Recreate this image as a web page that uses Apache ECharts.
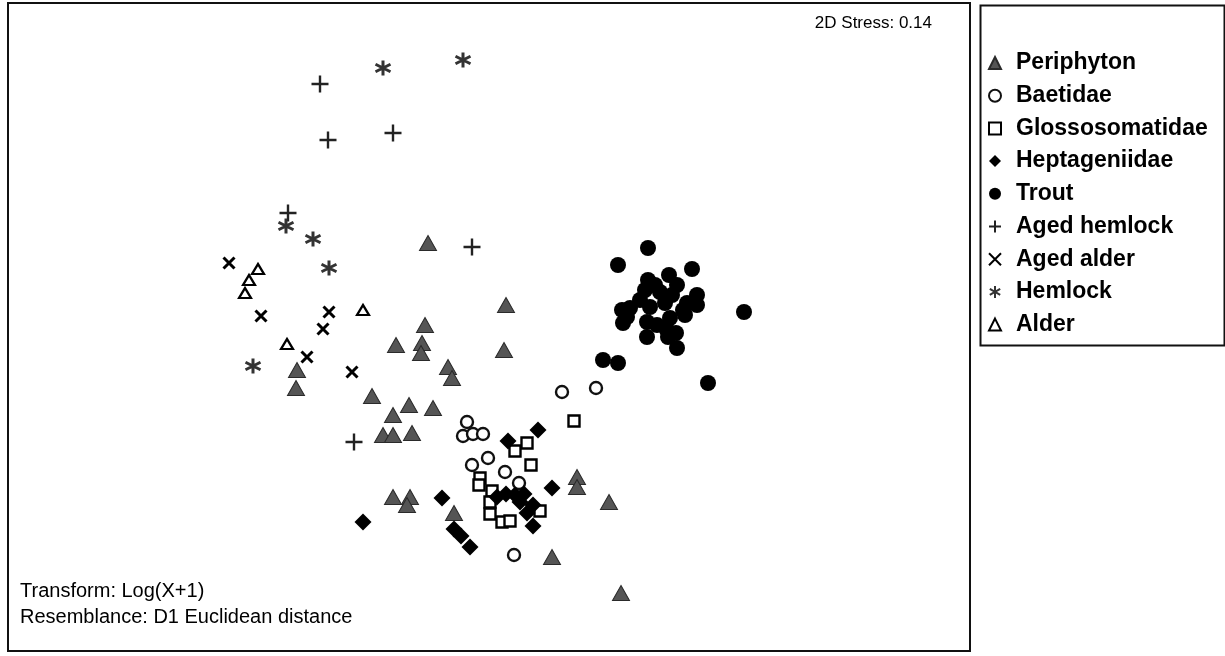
<!DOCTYPE html>
<html>
<head>
<meta charset="utf-8">
<script src="https://cdn.jsdelivr.net/npm/echarts@6/dist/echarts.min.js"></script>
<style>
  html, body { margin: 0; padding: 0; background: #fff; }
  #main { width: 1225px; height: 656px; }
</style>
</head>
<body>
<div id="main"></div>
<script>
// nMDS coordinates (arbitrary units)
var periphyton = [
  [-0.31, 0.435], [0.08, 0.125], [-0.325, 0.025], [-0.47, -0.075], [-0.34, -0.065],
  [-0.345, -0.115], [0.07, -0.1], [-0.21, -0.185], [-0.19, -0.24], [-0.965, -0.2],
  [-0.97, -0.29], [-0.59, -0.33], [-0.405, -0.375], [-0.285, -0.39], [-0.485, -0.425],
  [-0.535, -0.525], [-0.485, -0.525], [-0.39, -0.515], [-0.485, -0.835], [-0.4, -0.835],
  [-0.415, -0.875], [-0.18, -0.915], [0.435, -0.735], [0.435, -0.785], [0.595, -0.86],
  [0.31, -1.135], [0.655, -1.315]
]
var baetidae = [
  [0.36, -0.31], [0.53, -0.29], [-0.115, -0.46], [-0.135, -0.53], [-0.085, -0.52],
  [-0.035, -0.52], [-0.09, -0.675], [-0.01, -0.64], [0.075, -0.71], [0.145, -0.765],
  [0.12, -1.125]
]
var glossosomatidae = [
  [0.42, -0.455], [0.185, -0.565], [0.125, -0.605], [0.205, -0.675], [-0.05, -0.74],
  [-0.055, -0.775], [0.01, -0.805], [0, -0.86], [0, -0.92], [0.06, -0.96],
  [0.1, -0.955], [0.25, -0.905]
]
var heptageniidae = [
  [0.24, -0.5], [0.09, -0.555], [-0.24, -0.84], [-0.635, -0.96], [-0.18, -0.995],
  [-0.145, -1.03], [-0.1, -1.085], [0.31, -0.79], [0.215, -0.98], [0.035, -0.835],
  [0.08, -0.82], [0.125, -0.825], [0.17, -0.82], [0.15, -0.86], [0.185, -0.915],
  [0.215, -0.875]
]
var trout = [
  [0.79, 0.41], [0.64, 0.325], [1.01, 0.305], [0.79, 0.25], [0.895, 0.275],
  [0.935, 0.225], [0.775, 0.2], [0.85, 0.19], [0.75, 0.15], [1.035, 0.175],
  [0.985, 0.135], [1.035, 0.125], [0.875, 0.135], [0.8, 0.115], [0.66, 0.1],
  [0.7, 0.11], [0.685, 0.065], [0.665, 0.035], [0.965, 0.1], [0.975, 0.075],
  [0.785, 0.04], [0.835, 0.025], [0.9, 0.06], [0.885, 0], [0.785, -0.035],
  [0.89, -0.035], [0.93, -0.015], [0.935, -0.09], [1.27, 0.09], [0.565, -0.15],
  [0.64, -0.165], [1.09, -0.265], [0.825, 0.225], [0.91, 0.175]
]
var agedHemlock = [
  [-0.85, 1.23], [-0.81, 0.95], [-0.485, 0.985], [-1.01, 0.585], [-0.09, 0.415], [-0.68, -0.56]
]
var agedAlder = [
  [-1.305, 0.335], [-1.145, 0.07], [-0.805, 0.09], [-0.835, 0.005], [-0.915, -0.135], [-0.69, -0.21]
]
var hemlock = [
  [-0.535, 1.31], [-0.135, 1.35], [-1.02, 0.52], [-0.885, 0.455], [-0.805, 0.31], [-1.185, -0.18]
]
var alder = [
  [-1.16, 0.305], [-1.205, 0.25], [-1.225, 0.185], [-0.635, 0.1], [-1.015, -0.07]
]
var groupNames = ['Periphyton', 'Baetidae', 'Glossosomatidae', 'Heptageniidae', 'Trout',
  'Aged hemlock', 'Aged alder', 'Hemlock', 'Alder']

var FONT = '"Liberation Sans", Arial, sans-serif'
var plusPath = 'path://M5,0 L5,10 M0,5 L10,5'
var crossPath = 'path://M0,0 L10,10 M10,0 L0,10'
var starPath = 'path://M5,0 L5,10 M0.67,2.5 L9.33,7.5 M0.67,7.5 L9.33,2.5'

var myChart = echarts.init(document.getElementById('main'))

var option = {
  animation: false,
  backgroundColor: '#fff',
  grid: {
    left: 8, top: 3, width: 962, height: 648,
    show: true, borderColor: '#111', borderWidth: 2
  },
  xAxis: { type: 'value', min: -2.41, max: 2.4, show: false },
  yAxis: { type: 'value', min: -1.605, max: 1.635, show: false },
  legend: {
    orient: 'vertical',
    left: 988, top: 51,
    padding: 0,
    itemWidth: 12, itemHeight: 12,
    itemGap: 8.7,
    data: groupNames,
    textStyle: {
      fontFamily: FONT, fontSize: 23, fontWeight: 'bold', color: '#000',
      lineHeight: 24, padding: [0, 0, 0, 10]
    }
  },
  graphic: [
    {
      type: 'rect', left: 978, top: 3, silent: true,
      shape: { width: 244, height: 340 },
      style: { fill: 'none', stroke: '#111', lineWidth: 2 }
    },
    {
      type: 'text', right: 1225 - 932, top: 15,
      style: { text: '2D Stress: 0.14', font: '17px ' + FONT, fill: '#000' }
    },
    {
      type: 'text', left: 20, top: 581,
      style: { text: 'Transform: Log(X+1)', font: '20px ' + FONT, fill: '#000' }
    },
    {
      type: 'text', left: 20, top: 607,
      style: { text: 'Resemblance: D1 Euclidean distance', font: '20px ' + FONT, fill: '#000' }
    }
  ],
  series: [
    {
      name: 'Periphyton', type: 'scatter', data: periphyton,
      symbol: 'triangle', symbolSize: [17, 15],
      itemStyle: { color: '#555', borderColor: '#2a2a2a', borderWidth: 1, opacity: 1 }
    },
    {
      name: 'Baetidae', type: 'scatter', data: baetidae,
      symbol: 'circle', symbolSize: 12,
      itemStyle: { color: '#fff', borderColor: '#111', borderWidth: 2.4, opacity: 1 }
    },
    {
      name: 'Glossosomatidae', type: 'scatter', data: glossosomatidae,
      symbol: 'rect', symbolSize: 11,
      itemStyle: { color: '#fff', borderColor: '#000', borderWidth: 2.4, opacity: 1 }
    },
    {
      name: 'Heptageniidae', type: 'scatter', data: heptageniidae,
      symbol: 'diamond', symbolSize: 17,
      itemStyle: { color: '#000', opacity: 1 }
    },
    {
      name: 'Trout', type: 'scatter', data: trout,
      symbol: 'circle', symbolSize: 16,
      itemStyle: { color: '#000', opacity: 1 }
    },
    {
      name: 'Aged hemlock', type: 'scatter', data: agedHemlock,
      symbol: plusPath, symbolSize: 17,
      itemStyle: { color: 'transparent', borderColor: '#222', borderWidth: 2.4, opacity: 1 }
    },
    {
      name: 'Aged alder', type: 'scatter', data: agedAlder,
      symbol: crossPath, symbolSize: 11,
      itemStyle: { color: 'transparent', borderColor: '#000', borderWidth: 3, opacity: 1 }
    },
    {
      name: 'Hemlock', type: 'scatter', data: hemlock,
      symbol: starPath, symbolSize: 15,
      itemStyle: { color: 'transparent', borderColor: '#333', borderWidth: 3, opacity: 1 }
    },
    {
      name: 'Alder', type: 'scatter', data: alder,
      symbol: 'triangle', symbolSize: [12, 10],
      itemStyle: { color: '#fff', borderColor: '#000', borderWidth: 2.2, opacity: 1 }
    }
  ]
}

myChart.setOption(option)
</script>
</body>
</html>
